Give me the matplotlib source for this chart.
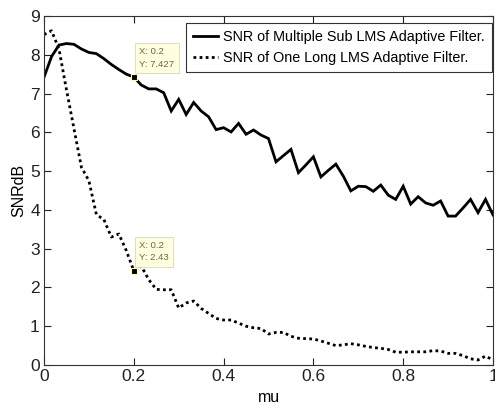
import numpy as np
import matplotlib
matplotlib.use("Agg")
import matplotlib.pyplot as plt

# ---- data (mu sampled every 1/60) ----
n_points = 61
mu = np.arange(n_points) / 60.0

snr_multi = [7.42, 7.95, 8.25, 8.29, 8.27, 8.15, 8.06, 8.03, 7.90, 7.75,
             7.62, 7.50, 7.427, 7.22, 7.12, 7.12, 7.02, 6.55, 6.85, 6.46,
             6.77, 6.55, 6.40, 6.07, 6.12, 6.01, 6.23, 5.95, 6.06, 5.93,
             5.84, 5.24, 5.40, 5.56, 4.96, 5.16, 5.37, 4.85, 5.02, 5.18,
             4.87, 4.49, 4.61, 4.60, 4.48, 4.64, 4.38, 4.27, 4.61, 4.15,
             4.34, 4.18, 4.12, 4.23, 3.84, 3.84, 4.05, 4.27, 3.93, 4.27,
             3.87]

snr_long = [8.52, 8.62, 8.15, 7.10, 6.10, 5.10, 4.75, 3.88, 3.75, 3.30,
            3.38, 2.95, 2.43, 2.55, 2.20, 1.95, 1.94, 1.94, 1.47, 1.60,
            1.65, 1.46, 1.33, 1.20, 1.16, 1.16, 1.08, 1.00, 0.96, 0.94,
            0.80, 0.84, 0.84, 0.74, 0.69, 0.68, 0.67, 0.62, 0.56, 0.50,
            0.52, 0.55, 0.52, 0.48, 0.45, 0.43, 0.40, 0.33, 0.33, 0.34,
            0.34, 0.34, 0.37, 0.36, 0.30, 0.30, 0.24, 0.16, 0.13, 0.23,
            0.13]

legend_labels = ["SNR of Multiple Sub LMS Adaptive Filter.",
                 "SNR of One Long LMS Adaptive Filter."]
tip_x = 0.2
tip_y = [7.427, 2.43]
tip_text = ["X: 0.2\nY: 7.427", "X: 0.2\nY: 2.43"]
xticks = [0, 0.2, 0.4, 0.6, 0.8, 1]
xticklabels = ["0", "0.2", "0.4", "0.6", "0.8", "1"]
yticks = list(range(10))

plt.rcParams["font.family"] = ["Liberation Sans", "DejaVu Sans"]

fig = plt.figure(figsize=(4.95, 4.08), dpi=100)
ax = fig.add_axes([44/495, 43/408, 449/495, 349/408])

ax.plot(mu, snr_multi, color="black", lw=2.0, solid_joinstyle="miter",
        label=legend_labels[0])
ax.plot(mu, snr_long, color="black", lw=2.0, linestyle=(0, (1, 1.2)),
        label=legend_labels[1])

ax.set_xlim(0, 1)
ax.set_ylim(0, 9)
ax.set_xticks(xticks)
ax.set_xticklabels(xticklabels)
ax.set_yticks(yticks)
ax.tick_params(direction="in", length=5, width=0.8, top=True, right=True,
               labelsize=12.5, pad=3, colors="#222222")
for s in ax.spines.values():
    s.set_linewidth(0.8)
    s.set_color("#333333")

ax.set_xlabel("mu", fontsize=11.5, labelpad=4)
ax.set_ylabel("SNRdB", fontsize=11.5, labelpad=3)

leg = ax.legend(loc="upper right", bbox_to_anchor=(0.997, 0.981),
                fontsize=10.35, fancybox=False, framealpha=1,
                edgecolor="#333333", handlelength=1.75, handletextpad=0.3,
                borderpad=0.5, labelspacing=0.5, borderaxespad=0.0)
leg.get_frame().set_linewidth(0.8)

# datatips
for ty, tt in zip(tip_y, tip_text):
    ax.plot([tip_x], [ty], marker="s", ms=5, mfc="black", mec="#ffffb0",
            mew=0.8, linestyle="none", zorder=5)
    ax.annotate(tt, xy=(tip_x, ty), xytext=(4, 6), textcoords="offset points",
                fontsize=6.8, color="#66664a", va="bottom", ha="left",
                linespacing=1.5,
                bbox=dict(boxstyle="square,pad=0.45", fc="#ffffe0",
                          ec="#d8d8c0", lw=0.6),
                zorder=6)

fig.savefig("out.png", dpi=100, facecolor="white")
